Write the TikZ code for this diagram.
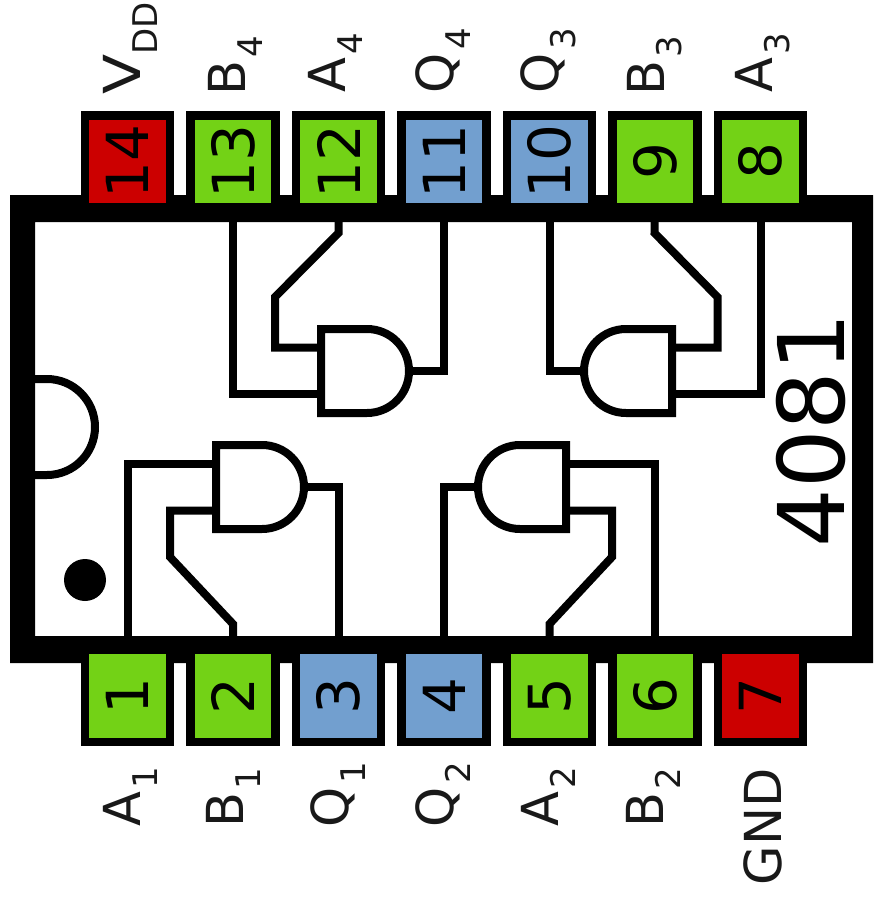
\documentclass[tikz,border=0pt]{standalone}
\usepackage{fontspec}
\setmainfont{DejaVu Sans}
\definecolor{pinred}{HTML}{CC0000}
\definecolor{pingreen}{HTML}{73D216}
\definecolor{pinblue}{HTML}{729FCF}
\tikzset{
  pinbox/.style={draw=black,line width=8.5pt,minimum width=85pt,minimum height=92pt,inner sep=0pt,outer sep=0pt,font=\fontsize{58}{58}\selectfont},
  wire/.style={draw=black,line width=8pt,miter limit=10},
  gateshape/.style={draw=black,fill=white,line width=8pt},
  pinlabel/.style={rotate=90,anchor=base west,inner sep=0pt,outer sep=0pt,font=\fontsize{51}{51}\selectfont,text=black!90},
}
\newcommand{\pinnum}[1]{\rotatebox{90}{#1}}
\newcommand{\lowsub}[1]{\kern3pt\raisebox{-17pt}{\fontsize{34}{34}\selectfont #1}}
% name, flat-side x, centre y, direction
\newcommand{\andgate}[4]{%
  \path[gateshape] ({#2},{#3-42}) -- ({#2+#4*46},{#3-42})
    .. controls ({#2+#4*69.2},{#3-42}) and ({#2+#4*88},{#3-23.2}) .. ({#2+#4*88},{#3})
    .. controls ({#2+#4*88},{#3+23.2}) and ({#2+#4*69.2},{#3+42}) .. ({#2+#4*46},{#3+42})
    -- ({#2},{#3+42}) -- cycle;
}
\begin{document}
\begin{tikzpicture}[x=1pt,y=-1pt]
\useasboundingbox (0,0) rectangle (873,897);
% package body
\fill[black,even odd rule] (10,195) rectangle (873,663) (35,222) rectangle (852,636);
% pins
\foreach \n/\i/\c in {14/0/pinred,13/1/pingreen,12/2/pingreen,11/3/pinblue,10/4/pinblue,9/5/pingreen,8/6/pingreen}{
  \node[pinbox,fill=\c] (p\n) at ({127.5+105.5*\i},161.5) {\pinnum{\n}};
}
\foreach \n/\i/\c in {1/0/pingreen,2/1/pingreen,3/2/pinblue,4/3/pinblue,5/4/pingreen,6/5/pingreen,7/6/pinred}{
  \node[pinbox,fill=\c] (p\n) at ({127.5+105.5*\i},696) {\pinnum{\n}};
}
% gate terminals
\coordinate (gAa) at (321,347.5); \coordinate (gAb) at (321,394); \coordinate (gAo) at (409,371);
\coordinate (gBa) at (672,347.5); \coordinate (gBb) at (672,394); \coordinate (gBo) at (584,371);
\coordinate (gCa) at (216,464);   \coordinate (gCb) at (216,510.5); \coordinate (gCo) at (304,487);
\coordinate (gDa) at (566,464);   \coordinate (gDb) at (566,510.5); \coordinate (gDo) at (478,487);
% wires
\draw[wire] (p13.south) |- (gAb);
\draw[wire] (p12.south) -- (338.5,233) -- (275,297) |- (gAa);
\draw[wire] (p11.south) |- (gAo);
\draw[wire] (p10.south) |- (gBo);
\draw[wire] (p9.south) -- (654.5,233) -- (717.5,297) |- (gBa);
\draw[wire] (p8.south) |- (gBb);
\draw[wire] (p1.north) |- (gCa);
\draw[wire] (p2.north) -- (233,624) -- (170,557) |- (gCb);
\draw[wire] (p3.north) |- (gCo);
\draw[wire] (p4.north) |- (gDo);
\draw[wire] (p5.north) -- (549.5,624) -- (612,557) |- (gDb);
\draw[wire] (p6.north) |- (gDa);
% gates
\andgate{gA}{321}{371}{1}
\andgate{gB}{672}{371}{-1}
\andgate{gC}{216}{487}{1}
\andgate{gD}{566}{487}{-1}
% notch and index dot
\draw[draw=black,line width=8pt] (35,379) -- (47,379) arc[start angle=90,end angle=-90,radius=48pt] -- (35,475);
\fill[black] (85,580) circle[radius=21pt];
% labels
\node[rotate=90,anchor=base,inner sep=0pt,font=\fontsize{92}{92}\selectfont] (name) at (844,430) {4081};
\node[pinlabel] (lV) at (140,94) {\scalebox{1.15}[1]{V}\kern-1pt\raisebox{-17pt}{\fontsize{34}{34}\selectfont DD}};
\node[pinlabel] (lB4) at (245,95) {B\lowsub{4}};
\node[pinlabel] (lA4) at (345,92) {A\lowsub{4}};
\node[pinlabel] (lQ4) at (453,93) {Q\lowsub{4}};
\node[pinlabel] (lQ3) at (558,93) {Q\lowsub{3}};
\node[pinlabel] (lB3) at (664,95) {B\lowsub{3}};
\node[pinlabel] (lA3) at (772,92) {A\lowsub{3}};
\node[pinlabel] (lA1) at (140,826) {A\lowsub{1}};
\node[pinlabel] (lB1) at (243,827) {B\lowsub{1}};
\node[pinlabel] (lQ1) at (348,827) {Q\lowsub{1}};
\node[pinlabel] (lQ2) at (453,827) {Q\lowsub{2}};
\node[pinlabel] (lA2) at (558,826) {A\lowsub{2}};
\node[pinlabel] (lB2) at (663,827) {B\lowsub{2}};
\node[pinlabel] (lGND) at (781,885) {GND};
\end{tikzpicture}
\end{document}
